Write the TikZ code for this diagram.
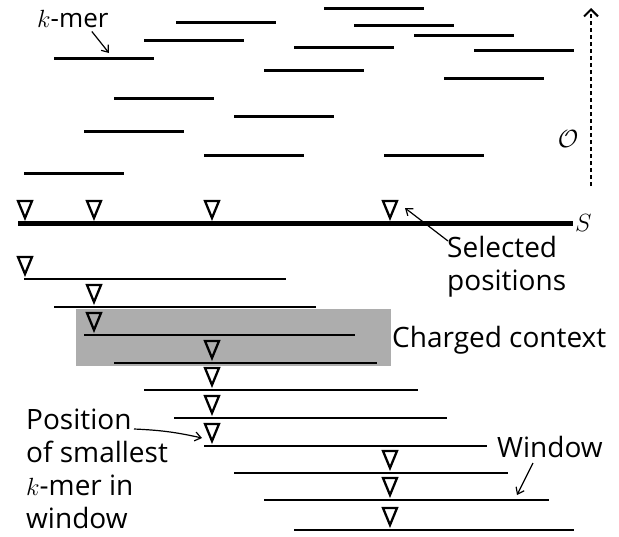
\documentclass[tikz,border=0pt]{standalone}
\usepackage{fontspec}
\setmainfont{Open Sans}
\usetikzlibrary{arrows.meta}
\definecolor{ctxgray}{RGB}{173,173,173}
\tikzset{
  kmer/.style={line width=3pt},
  winkmer/.style={line width=2.5pt},
  seqline/.style={line width=5pt},
  lab/.style={inner sep=0pt, anchor=base west, align=left,
    font=\fontsize{28}{33}\selectfont},
  ann/.style={line width=1.2pt, -{Straight Barb[length=6pt,width=9pt]}},
  selmark/.pic={\draw[line width=2.3pt, line join=miter] (-7,-22) -- (7,-22) -- (0,-5) -- cycle;}
}
\begin{document}
\begin{tikzpicture}[x=1pt,y=-1pt]
\useasboundingbox (0,0) rectangle (619,536);

% k-mers scattered above the sequence
\foreach \xa/\yy in {176/22, 144/40, 54/58, 114/98, 84/131, 24/173, 234/116,
  204/155, 294/47, 264/70, 324/8, 354/25, 414/35, 474/50, 444/78, 384/155}
  \draw[kmer] (\xa,\yy) -- ++(100,0);

% order axis
\draw[line width=2pt, dash pattern=on 4pt off 3pt,
  -{Straight Barb[length=7pt,width=14pt,line width=2pt]}] (591,186) -- (591,8);
\node[inner sep=0pt, font=\fontsize{36}{40}\selectfont] (order) at (568,139) {$\mathcal{O}$};

% the sequence with its selected positions
\draw[seqline] (18,223) -- (573,223);
\node[inner sep=0pt, anchor=west, font=\fontsize{28}{32}\selectfont] (S) at (575,223) {$S$};
\foreach \t in {25,94,212,390} \pic at (\t,223) {selmark};

% charged context
\fill[ctxgray] (76,309) rectangle (391,366);

% windows of k-mers, each with its smallest k-mer marked
\foreach \xa/\xb/\yy/\t in {24/286/279/25, 54/316/307/94, 84/355/335/94,
  114/377/363/212, 144/418/390/212, 174/447/418/212, 204/487/446/212,
  234/508/473/390, 264/549/500/390, 294/574/530/390} {
  \draw[winkmer] (\xa,\yy) -- (\xb,\yy);
  \pic at (\t,\yy) {selmark};
}

% labels (base anchor of a multi-line label sits on its last line)
\node[lab, font=\fontsize{26}{30}\selectfont] (kmerlab) at (37,27) {$k$-mer};
\coordinate (kmertip) at (109,53);
\draw[ann] ([shift={(19,4)}]kmerlab.south) -- (kmertip);

\node[lab] (sellab) at (447,290) {Selected\\positions};
\coordinate (seltip) at (405,208);
\draw[ann] ([shift={(1,-49)}]sellab.base west) -- (seltip);

\node[lab] (ctxlab) at (392,347) {Charged context};

\node[lab] (winlab) at (497,457) {Window};
\coordinate (wintip) at (517,495);
\draw[ann] ([shift={(36,6)}]winlab.base west) -- (wintip);

\node[lab] (poslab) at (26,528) {Position\\of smallest\\$k$-mer in\\window};
\coordinate (postip) at (202,438);
\draw[ann] ([shift={(108,-99)}]poslab.base west) to[bend left=5] (postip);
\end{tikzpicture}
\end{document}
